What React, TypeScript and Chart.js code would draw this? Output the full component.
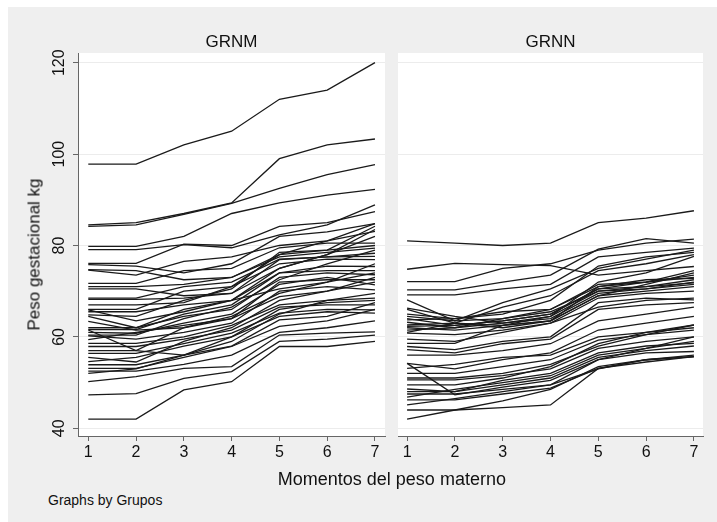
import React, { useEffect, useRef } from "react";
import { Chart, registerables } from "chart.js";

Chart.register(...registerables);

const moments = [1, 2, 3, 4, 5, 6, 7];
const yTicks = [40, 60, 80, 100, 120];
const panelTitles = ["GRNM", "GRNN"];
const xTitle = "Momentos del peso materno";
const yTitle = "Peso gestacional kg";
const note = "Graphs by Grupos";

const grnm: number[][] = [
  [97.8, 97.8, 102, 105, 112, 114, 120],
  [84.5, 85, 87, 89.3, 99, 102, 103.3],
  [84.2, 84.5, 86.8, 89.2, 92.5, 95.5, 97.7],
  [79.8, 79.8, 82, 87, 89.3, 91, 92.3],
  [79.1, 79.1, 80.2, 79.5, 82.3, 84.5, 88.9],
  [76.1, 76.1, 80.3, 80, 84.2, 85, 87.4],
  [75.8, 75.5, 74, 76, 82, 83, 84.8],
  [74.7, 74.5, 72.5, 73, 78, 79, 84.2],
  [74.6, 73.5, 76.5, 77.5, 80, 81, 83.1],
  [71.7, 71.7, 74.5, 75, 79.5, 80.5, 80.5],
  [71, 71, 71.5, 73, 77.5, 78.5, 79.4],
  [70.5, 70.5, 69, 69.5, 75, 78, 83.5],
  [68.5, 68.5, 71, 72, 77, 77.5, 78.3],
  [68.2, 68.2, 68.5, 69.5, 76.9, 77.5, 77.6],
  [67, 67, 67.5, 71, 76, 77, 76.9],
  [66, 66, 70, 71, 78, 81, 84.8],
  [65.9, 63.5, 65.5, 68, 74, 75.5, 75.4],
  [65.5, 65.5, 67, 68, 70.5, 72, 74],
  [64.8, 64.5, 68, 70.5, 78.5, 79, 80],
  [64.5, 62, 64.5, 66, 73, 74, 73.6],
  [63.4, 61.5, 62, 64, 72, 72.5, 72.5],
  [62, 62, 66, 68, 75, 78, 82],
  [61.6, 61.6, 65, 67, 74, 74.5, 74.5],
  [61.5, 57, 56, 60, 66, 67.5, 68],
  [61, 60.8, 63, 65, 71.5, 73, 71.4],
  [60.4, 60.4, 64, 66.5, 72.5, 76, 79],
  [60.2, 59.5, 61, 63, 70, 71, 70.3],
  [59.4, 61, 62.5, 64, 68.8, 70, 72],
  [58.6, 58.6, 60, 62.5, 67, 68, 68.5],
  [57.9, 57.9, 59.5, 61.5, 66.5, 67, 67],
  [57, 57, 62, 64.5, 69.5, 72, 76],
  [56.4, 56.4, 58.5, 60.8, 65.2, 66, 65.9],
  [55.5, 54.5, 59, 62, 68, 70, 73],
  [54.6, 55.5, 58, 60, 64.5, 65.5, 65.2],
  [53.9, 53.9, 56, 58, 63.7, 64.5, 67.5],
  [53.1, 53.1, 55.5, 57.9, 62.3, 63.5, 66],
  [52.5, 52.5, 54, 56, 61, 62, 63.5],
  [52, 53, 56, 59, 65, 68, 69.5],
  [50.2, 51.3, 53.1, 53.5, 60.4, 60.8, 61.1],
  [47.3, 47.6, 50.9, 52.4, 59, 59.5, 60.4],
  [42, 42, 48.4, 50.2, 57.9, 57.9, 59],
];

const grnn: number[][] = [
  [81, 80.5, 80, 80.5, 85, 86, 87.6],
  [74.8, 76.1, 75.8, 75.6, 73.5, 74.5, 75.4],
  [72.1, 72.1, 75, 76, 79, 80.5, 81.4],
  [70.3, 70.3, 72, 73.5, 79.2, 81.5, 80.5],
  [69.2, 69.2, 70.5, 71.5, 77.5, 78.5, 79.4],
  [68.1, 63.5, 67.5, 70.5, 75, 77, 79],
  [66.3, 64.5, 63, 64.5, 72, 74, 77.6],
  [66, 63, 62, 63.5, 71, 72, 74.5],
  [65, 64, 65, 68, 75.5, 77.5, 78.5],
  [64.5, 63.5, 64, 65.5, 70, 71, 72.5],
  [64, 62.5, 63.5, 65, 70.5, 72, 73],
  [63.7, 64, 65.5, 66, 71, 72.5, 72.8],
  [63.2, 62, 63, 64, 69.5, 70.5, 71.5],
  [62.6, 63, 62.5, 63.5, 69, 70, 71],
  [62.3, 62.5, 63.5, 65, 70.5, 71, 71.8],
  [62, 61.5, 62.5, 64.5, 70, 70.5, 72],
  [61.5, 62, 64, 66, 71.5, 72, 73.5],
  [61, 63, 66.5, 69, 74.5, 76, 78],
  [60.8, 60.5, 61.5, 63, 68.5, 69.5, 70],
  [59.5, 59, 61, 63, 66.5, 68, 68.5],
  [58.6, 58.6, 62.5, 63.5, 69, 71.5, 74],
  [57.9, 57.2, 59, 60, 67.5, 68.5, 68.1],
  [57.2, 56.5, 58.5, 59.5, 66, 67, 67.5],
  [56, 56, 57, 58.5, 63.5, 65, 66.5],
  [54.2, 47.3, 49, 50.5, 55, 57.5, 59],
  [54.2, 53, 55, 56.5, 61.5, 63, 64.5],
  [53.1, 54, 55.5, 56, 60, 61, 62],
  [52, 52, 53.5, 55, 59.3, 60.5, 61.5],
  [51, 51, 52, 54, 58, 60.5, 62.6],
  [50.6, 50.6, 51.5, 53, 57.5, 59, 60],
  [49.5, 49.5, 51, 53.5, 58.5, 61, 62.6],
  [48.6, 48, 50.5, 52, 56.5, 58, 58.6],
  [48, 48, 49.5, 51, 55.5, 57, 58],
  [47.5, 47.5, 48.5, 49.5, 55, 56.5, 56.8],
  [46.8, 48.5, 50, 51.5, 56, 57.5, 60],
  [46.2, 46.2, 47.5, 48.8, 53.1, 55, 55.7],
  [45.1, 46.5, 48, 49.5, 53, 55, 56],
  [44, 44, 44.5, 45.1, 53.1, 54.5, 55.7],
  [42, 44, 46, 48.5, 53.5, 55, 55.7],
];

const FONT = '"Liberation Sans", Arial, Helvetica, sans-serif';
const AXIS = "#666666";
const GRID = "#ececec";
const TEXT = "#111111";

const whiteArea = {
  id: "whiteArea",
  beforeDraw(chart: any) {
    const { ctx, chartArea } = chart;
    ctx.save();
    ctx.fillStyle = "#ffffff";
    ctx.fillRect(chartArea.left, chartArea.top, chartArea.right - chartArea.left, chartArea.bottom - chartArea.top);
    ctx.restore();
  },
};

const yLabels = {
  id: "yLabels",
  afterDraw(chart: any) {
    const s = chart.scales.y;
    const ctx = chart.ctx;
    if (!chart.options.plugins.yLabels?.show) return;
    ctx.save();
    ctx.font = `16px ${FONT}`;
    ctx.fillStyle = TEXT;
    ctx.textAlign = "center";
    ctx.textBaseline = "middle";
    for (const t of s.ticks) {
      const y = s.getPixelForValue(t.value);
      ctx.save();
      ctx.translate(60, y);
      ctx.rotate(-Math.PI / 2);
      ctx.fillText(String(t.value), 0, 0);
      ctx.restore();
    }
    ctx.restore();
  },
};

function makePanel(
  canvas: HTMLCanvasElement,
  series: number[][],
  yWidth: number,
  padRight: number,
  xMin: number,
  xMax: number,
  showY: boolean
) {
  return new Chart(canvas, {
    type: "line",
    data: {
      datasets: series.map((row) => ({
        data: row.map((v, i) => ({ x: moments[i], y: v })),
        borderColor: "#1a1a1a",
        borderWidth: 1.3,
        pointRadius: 0,
        tension: 0,
        fill: false,
      })),
    },
    options: {
      responsive: false,
      animation: false,
      events: [],
      layout: { padding: { top: 53, right: padRight, left: 0, bottom: 0 } },
      plugins: {
        legend: { display: false },
        tooltip: { enabled: false },
        title: { display: false },
        // @ts-ignore
        yLabels: { show: showY },
      },
      scales: {
        x: {
          type: "linear",
          min: xMin,
          max: xMax,
          afterBuildTicks: (s: any) => {
            s.ticks = moments.map((v) => ({ value: v }));
          },
          afterFit: (s: any) => {
            s.height = 34;
          },
          ticks: {
            font: { family: FONT, size: 16 },
            color: TEXT,
            padding: 2,
            maxRotation: 0,
            minRotation: 0,
            callback: (v: any) => String(v),
          },
          grid: {
            drawOnChartArea: false,
            drawTicks: true,
            tickLength: 5,
            tickColor: AXIS,
            color: AXIS,
          },
          border: { display: true, color: AXIS, width: 1 },
        },
        y: {
          type: "linear",
          min: 38.31,
          max: 122.12,
          afterBuildTicks: (s: any) => {
            s.ticks = yTicks.map((v) => ({ value: v }));
          },
          afterFit: (s: any) => {
            s.width = yWidth;
          },
          ticks: { display: false },
          grid: {
            color: GRID,
            lineWidth: 1,
            drawTicks: showY,
            tickLength: 5,
            tickColor: AXIS,
          },
          border: { display: showY, color: AXIS, width: 1 },
        },
      },
    },
    plugins: [whiteArea, yLabels],
  } as any);
}

export default function App() {
  const leftRef = useRef<HTMLCanvasElement>(null);
  const rightRef = useRef<HTMLCanvasElement>(null);

  useEffect(() => {
    const a = makePanel(leftRef.current!, grnm, 78, 3, 0.785, 7.21, true);
    const b = makePanel(rightRef.current!, grnn, 8, 14, 0.81, 7.19, false);
    return () => {
      a.destroy();
      b.destroy();
    };
  }, []);

  const textBase: React.CSSProperties = {
    position: "absolute",
    fontFamily: FONT,
    color: TEXT,
    whiteSpace: "nowrap",
  };

  return (
    <div style={{ position: "absolute", left: 0, top: 0, width: 717, height: 522, background: "#ffffff", overflow: "hidden" }}>
      <div style={{ position: "absolute", left: 8, top: 7, width: 709, height: 515, background: "#efefef" }} />
      <canvas ref={leftRef} width={388} height={470} style={{ position: "absolute", left: 0, top: 0, width: 388, height: 470 }} />
      <canvas ref={rightRef} width={327} height={470} style={{ position: "absolute", left: 390, top: 0, width: 327, height: 470 }} />
      <div style={{ ...textBase, left: 131.5, width: 200, top: 32.6, fontSize: 17, lineHeight: "17px", textAlign: "center" }}>{panelTitles[0]}</div>
      <div style={{ ...textBase, left: 450.5, width: 200, top: 32.6, fontSize: 17, lineHeight: "17px", textAlign: "center" }}>{panelTitles[1]}</div>
      <div style={{ ...textBase, left: 277.8, width: 200, top: 469.8, fontSize: 18, lineHeight: "18px", textAlign: "center" }}>{xTitle}</div>
      <div style={{ ...textBase, left: 48, top: 493, fontSize: 14, lineHeight: "14px" }}>{note}</div>
      <div
        style={{
          ...textBase,
          left: 33.5 - 100,
          top: 254 - 8.5,
          width: 200,
          fontSize: 17,
          lineHeight: "17px",
          textAlign: "center",
          transform: "rotate(-90deg)",
          transformOrigin: "50% 50%",
        }}
      >
        {yTitle}
      </div>
    </div>
  );
}
